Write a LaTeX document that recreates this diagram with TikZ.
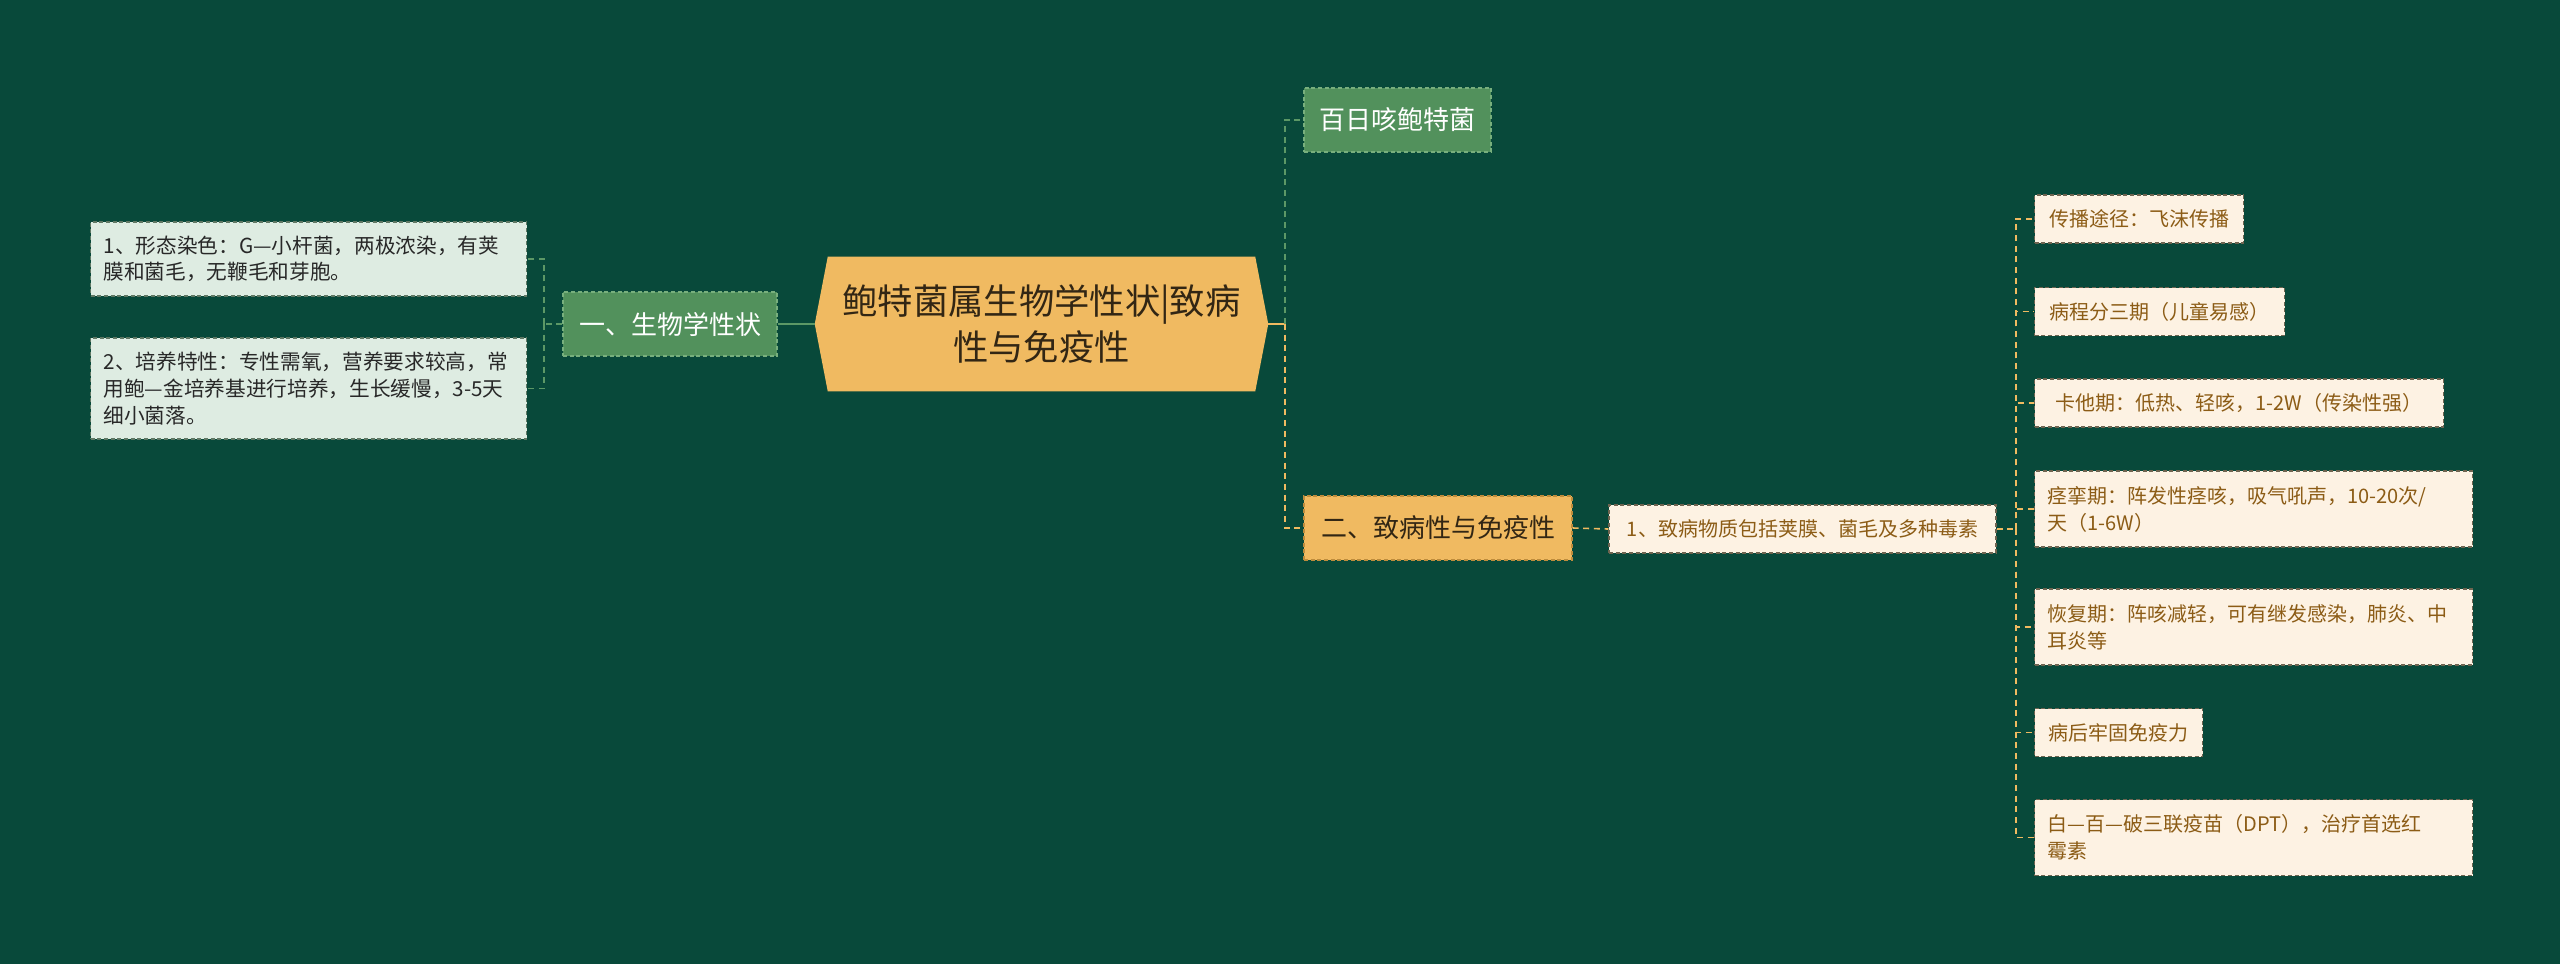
\documentclass[tikz,border=0pt]{standalone}
\usepackage{fontspec}
\setmainfont{Noto Sans CJK SC}
\usetikzlibrary{backgrounds}
\definecolor{bgc}{RGB}{8,73,58}
\definecolor{gnode}{RGB}{82,145,92}
\definecolor{gborder}{RGB}{120,175,125}
\definecolor{lgfill}{RGB}{222,236,226}
\definecolor{lgborder}{RGB}{95,120,100}
\definecolor{lgtext}{RGB}{40,40,40}
\definecolor{orng}{RGB}{240,186,97}
\definecolor{oborder}{RGB}{190,140,60}
\definecolor{otext}{RGB}{50,38,20}
\definecolor{cream}{RGB}{253,242,227}
\definecolor{cborder}{RGB}{110,100,80}
\definecolor{btext}{RGB}{140,92,22}
\definecolor{gline}{RGB}{92,152,102}
\definecolor{yline}{RGB}{240,186,97}
\tikzset{
  boxbase/.style={line width=0.8pt, dash pattern=on 3pt off 2pt, inner ysep=0pt, inner xsep=9.75pt},
  leafg/.style={boxbase, fill=lgfill, draw=lgborder, text=lgtext, font=\fontsize{15.5}{20}\selectfont, align=left, anchor=west, minimum width=327pt, text width=307.5pt},
  greennode/.style={boxbase, fill=gnode, draw=gborder, text=white, font=\fontsize{19.5}{24}\selectfont, minimum height=48pt},
  orangenode/.style={boxbase, fill=orng, draw=oborder, text=otext, font=\fontsize{19.5}{24}\selectfont, minimum height=48pt},
  creambox/.style={boxbase, fill=cream, draw=cborder, text=btext, font=\fontsize{15}{20.25}\selectfont, anchor=west},
  creamwide/.style={creambox, align=left, minimum width=328.5pt, text width=309pt, minimum height=57pt},
  gdash/.style={draw=gline, line width=1.2pt, dash pattern=on 4.5pt off 3.5pt},
  ydash/.style={draw=yline, line width=1.2pt, dash pattern=on 4.5pt off 3.5pt},
  gsolid/.style={draw=gline, line width=1.5pt},
  ysolid/.style={draw=yline, line width=1.5pt}
}
\begin{document}
\begin{tikzpicture}[x=0.75pt,y=-0.75pt]
\useasboundingbox (0,0) rectangle (2560,964);
\begin{scope}[on background layer]
\fill[bgc] (0,0) rectangle (2560,964);
\end{scope}

% root
\node (root) [minimum width=339.75pt, minimum height=100.5pt, inner sep=0pt, align=center, text=otext, font=\fontsize{26.5}{34.5}\selectfont] at (1041.5,324) {鲍特菌属生物学性状|致病\\性与免疫性};
\begin{scope}[on background layer]
\fill[orng] (root.west) -- ([xshift=9.75pt]root.north west) -- ([xshift=-9.75pt]root.north east) -- (root.east) -- ([xshift=-9.75pt]root.south east) -- ([xshift=9.75pt]root.south west) -- cycle;
\end{scope}

% left branch
\node (bio) [greennode, minimum width=160.5pt] at (670,324) {一、生物学性状};
\node (l1) [leafg, minimum height=55.5pt] at (90,259) {1、形态染色：G—小杆菌，两极浓染，有荚\\膜和菌毛，无鞭毛和芽胞。};
\node (l2) [leafg, minimum height=75.75pt] at (90,388.5) {2、培养特性：专性需氧，营养要求较高，常\\用鲍—金培养基进行培养，生长缓慢，3-5天\\细小菌落。};

% right branches
\node (w1) [greennode, minimum width=140.25pt] at (1397.5,120) {百日咳鲍特菌};
\node (p2) [orangenode, minimum width=201pt] at (1438,528) {二、致病性与免疫性};
\node (p21) [creambox, anchor=center, minimum width=290.25pt, minimum height=36pt] at (1802.5,529) {1、致病物质包括荚膜、菌毛及多种毒素};

\node (r1) [creambox, minimum width=156.75pt, minimum height=36pt] at (2034,219) {传播途径：飞沫传播};
\node (r2) [creambox, minimum width=187.5pt, minimum height=36pt] at (2034,311.5) {病程分三期（儿童易感）};
\node (r3) [creambox, minimum width=306.75pt, minimum height=36pt] at (2034,403) {卡他期：低热、轻咳，1-2W（传染性强）};
\node (r4) [creamwide] at (2034,509) {痉挛期：阵发性痉咳，吸气吼声，10-20次/\\天（1-6W）};
\node (r5) [creamwide] at (2034,627) {恢复期：阵咳减轻，可有继发感染，肺炎、中\\耳炎等};
\node (r6) [creambox, minimum width=126pt, minimum height=36pt] at (2034,732.5) {病后牢固免疫力};
\node (r7) [creamwide] at (2034,837.5) {白—百—破三联疫苗（DPT），治疗首选红\\霉素};

% connectors
\coordinate (lt) at (544,324);
\coordinate (rt) at (1285,324);
\coordinate (rt2) at (2016,529);
\draw[gsolid] (root.west) -- (bio.east);
\draw[gdash] (bio.west) -- (lt);
\draw[gdash] (lt) |- (l1.east);
\draw[gdash] (lt) |- (l2.east);
\draw[ysolid] (root.east) -- (rt);
\draw[gdash] (rt) |- (w1.west);
\draw[ydash] (rt) |- (p2.west);
\draw[ydash] (p2.east) -- (p21.west);
\draw[ydash] (p21.east) -- (rt2);
\foreach \n in {r1,r2,r3,r4,r5,r6,r7} {
  \draw[ydash] (rt2) |- (\n.west);
}
\end{tikzpicture}
\end{document}
